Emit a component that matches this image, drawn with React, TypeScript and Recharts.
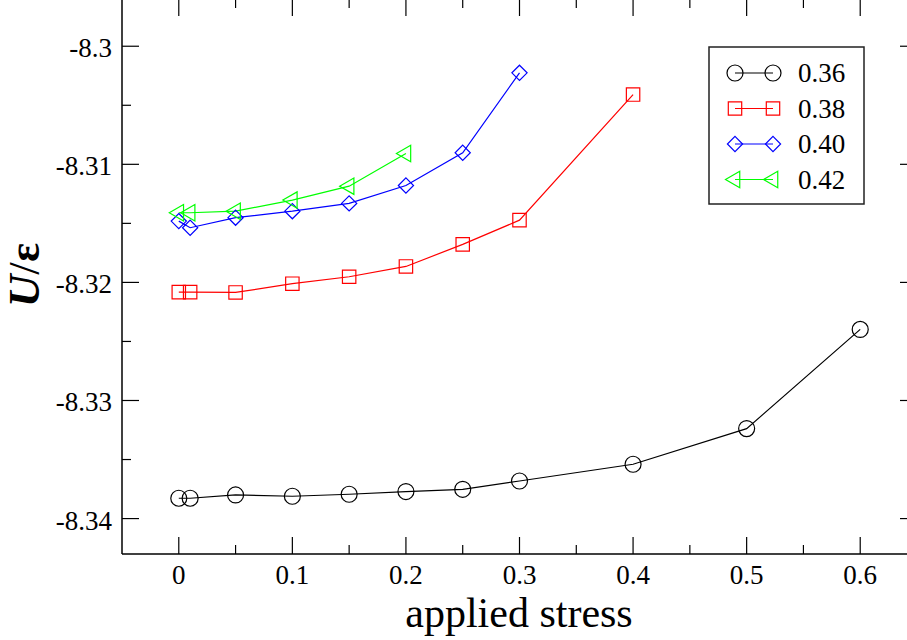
import { Line, LineChart, XAxis, YAxis } from 'recharts'

// x positions (applied stress) and energies per density
const STRESS_036 = [0, 0.01, 0.05, 0.1, 0.15, 0.2, 0.25, 0.3, 0.4, 0.5, 0.6]
const U_036 = [-8.33828, -8.33828, -8.338, -8.33811, -8.33794, -8.33771, -8.33752, -8.33682, -8.3354, -8.33238, -8.32398]

const STRESS_038 = [0, 0.01, 0.05, 0.1, 0.15, 0.2, 0.25, 0.3, 0.4]
const U_038 = [-8.32082, -8.32082, -8.32085, -8.32011, -8.31952, -8.31865, -8.31678, -8.31473, -8.30409]

const STRESS_040 = [0, 0.01, 0.05, 0.1, 0.15, 0.2, 0.25, 0.3]
const U_040 = [-8.31481, -8.31537, -8.31452, -8.31397, -8.31331, -8.31179, -8.30902, -8.30225]

const STRESS_042 = [0, 0.01, 0.05, 0.1, 0.15, 0.2]
const U_042 = [-8.3141, -8.3141, -8.31397, -8.31303, -8.31185, -8.30908]

const X_MAJOR = [0, 0.1, 0.2, 0.3, 0.4, 0.5, 0.6]
const X_TICKS = [0, 0.05, 0.1, 0.15, 0.2, 0.25, 0.3, 0.35, 0.4, 0.45, 0.5, 0.55, 0.6]
const Y_MAJOR = [-8.34, -8.33, -8.32, -8.31, -8.3]
const Y_TICKS = [-8.34, -8.335, -8.33, -8.325, -8.32, -8.315, -8.31, -8.305, -8.3]

const FONT = '"Liberation Serif", "DejaVu Serif", serif'

type Shape = 'circle' | 'square' | 'diamond' | 'triangle'

const SERIES: { name: string; color: string; shape: Shape; xs: number[]; ys: number[] }[] = [
  { name: '0.36', color: '#000000', shape: 'circle', xs: STRESS_036, ys: U_036 },
  { name: '0.38', color: '#ff0000', shape: 'square', xs: STRESS_038, ys: U_038 },
  { name: '0.40', color: '#0000ff', shape: 'diamond', xs: STRESS_040, ys: U_040 },
  { name: '0.42', color: '#00ff00', shape: 'triangle', xs: STRESS_042, ys: U_042 },
]

function markerPath(shape: Shape, cx: number, cy: number) {
  if (shape === 'square') {
    const h = 6.7
    return `M${cx - h},${cy - h}H${cx + h}V${cy + h}H${cx - h}Z`
  }
  if (shape === 'diamond') {
    const h = 7.6
    return `M${cx},${cy - h}L${cx + h},${cy}L${cx},${cy + h}L${cx - h},${cy}Z`
  }
  // left pointing triangle
  const r = 9.5
  return `M${cx - r},${cy}L${cx + r / 2},${cy - r * 0.866}L${cx + r / 2},${cy + r * 0.866}Z`
}

function Marker({ shape, cx, cy, color }: { shape: Shape; cx: number; cy: number; color: string }) {
  if (shape === 'circle') {
    return <circle cx={cx} cy={cy} r={8} fill="none" stroke={color} strokeWidth={1.2} />
  }
  return <path d={markerPath(shape, cx, cy)} fill="none" stroke={color} strokeWidth={1.2} />
}

function BottomTick({ x, y, payload }: any) {
  const major = X_MAJOR.includes(payload.value)
  return (
    <g>
      <line x1={x} x2={x} y1={y} y2={y - (major ? 17 : 9)} stroke="#000" strokeWidth={1.2} />
      {major && (
        <text x={x} y={y + 30} textAnchor="middle" fontSize={27} fontFamily={FONT} fill="#000">
          {String(payload.value)}
        </text>
      )}
    </g>
  )
}

function TopTick({ x, y, payload }: any) {
  const major = X_MAJOR.includes(payload.value)
  return <line x1={x} x2={x} y1={y} y2={y + (major ? 17 : 9)} stroke="#000" strokeWidth={1.2} />
}

function LeftTick({ x, y, payload }: any) {
  const major = Y_MAJOR.includes(payload.value)
  return (
    <g>
      <line x1={x} x2={x + (major ? 17 : 9)} y1={y} y2={y} stroke="#000" strokeWidth={1.2} />
      {major && (
        <text x={x - 10} y={y + 11} textAnchor="end" fontSize={27} fontFamily={FONT} fill="#000">
          {String(payload.value)}
        </text>
      )}
    </g>
  )
}

function RightTick({ x, y, payload }: any) {
  const major = Y_MAJOR.includes(payload.value)
  return <line x1={x} x2={x - (major ? 17 : 9)} y1={y} y2={y} stroke="#000" strokeWidth={1.2} />
}

// chart is shifted up so the top frame sits at the very edge, like the reference
const SHIFT = 20

function LegendBox() {
  const left = 709
  const top = 47 + SHIFT
  return (
    <g>
      <rect x={left} y={top} width={155} height={157} fill="#fff" stroke="#222" strokeWidth={1.5} />
      {SERIES.map((s, i) => {
        const cy = top + 26 + i * 35.5
        return (
          <g key={s.name}>
            <line x1={735} x2={773} y1={cy} y2={cy} stroke={s.color} strokeWidth={1.2} />
            <Marker shape={s.shape} cx={735} cy={cy} color={s.color} />
            <Marker shape={s.shape} cx={773} cy={cy} color={s.color} />
            <text x={798} y={cy + 9} fontSize={27} fontFamily={FONT} fill="#000">
              {s.name}
            </text>
          </g>
        )
      })}
    </g>
  )
}

export default function App() {
  return (
    <div style={{ position: 'fixed', left: 0, top: 0, width: 907, height: 640, overflow: 'hidden', background: '#fff' }}>
      <div style={{ position: 'absolute', left: 0, top: -SHIFT }}>
        <LineChart width={940} height={680} margin={{ top: 18, right: 22, bottom: 66, left: 62 }}>
          <XAxis
            type="number"
            dataKey="s"
            domain={[-0.05, 0.65]}
            ticks={X_TICKS}
            height={40}
            tickSize={0}
            tickMargin={0}
            tick={BottomTick}
            axisLine={{ stroke: '#000', strokeWidth: 1.5 }}
            allowDataOverflow
            interval={0}
          />
          <XAxis
            xAxisId="top"
            orientation="top"
            type="number"
            dataKey="s"
            domain={[-0.05, 0.65]}
            ticks={X_TICKS}
            height={1}
            tickSize={0}
            tickMargin={0}
            tick={TopTick}
            axisLine={{ stroke: '#000', strokeWidth: 1.5 }}
            allowDataOverflow
            interval={0}
          />
          <YAxis
            type="number"
            domain={[-8.343, -8.296]}
            ticks={Y_TICKS}
            width={60}
            tickSize={0}
            tickMargin={0}
            tick={LeftTick}
            axisLine={{ stroke: '#000', strokeWidth: 1.5 }}
            allowDataOverflow
            interval={0}
          />
          <YAxis
            yAxisId="right"
            orientation="right"
            type="number"
            domain={[-8.343, -8.296]}
            ticks={Y_TICKS}
            width={1}
            tickSize={0}
            tickMargin={0}
            tick={RightTick}
            axisLine={{ stroke: '#000', strokeWidth: 1.5 }}
            allowDataOverflow
            interval={0}
          />
          {SERIES.map((s) => (
            <Line
              key={s.name}
              data={s.xs.map((x, i) => ({ s: x, u: s.ys[i] }))}
              dataKey="u"
              stroke={s.color}
              strokeWidth={1.2}
              isAnimationActive={false}
              dot={(p: any) => (
                <Marker key={`${s.name}-${p.index}`} shape={s.shape} cx={p.cx} cy={p.cy} color={s.color} />
              )}
              activeDot={false}
            />
          ))}
          <LegendBox />
          <text x={519} y={627 + SHIFT} textAnchor="middle" fontSize={42} fontFamily={FONT} fill="#000">
            applied stress
          </text>
          <text
            transform={`translate(39, ${275 + SHIFT}) rotate(-90)`}
            textAnchor="middle"
            fontSize={45}
            fontFamily={FONT}
            fill="#000"
          >
            <tspan fontWeight="bold" fontStyle="italic">U</tspan>
            <tspan>/</tspan>
            <tspan fontWeight="bold">ε</tspan>
          </text>
        </LineChart>
      </div>
    </div>
  )
}
